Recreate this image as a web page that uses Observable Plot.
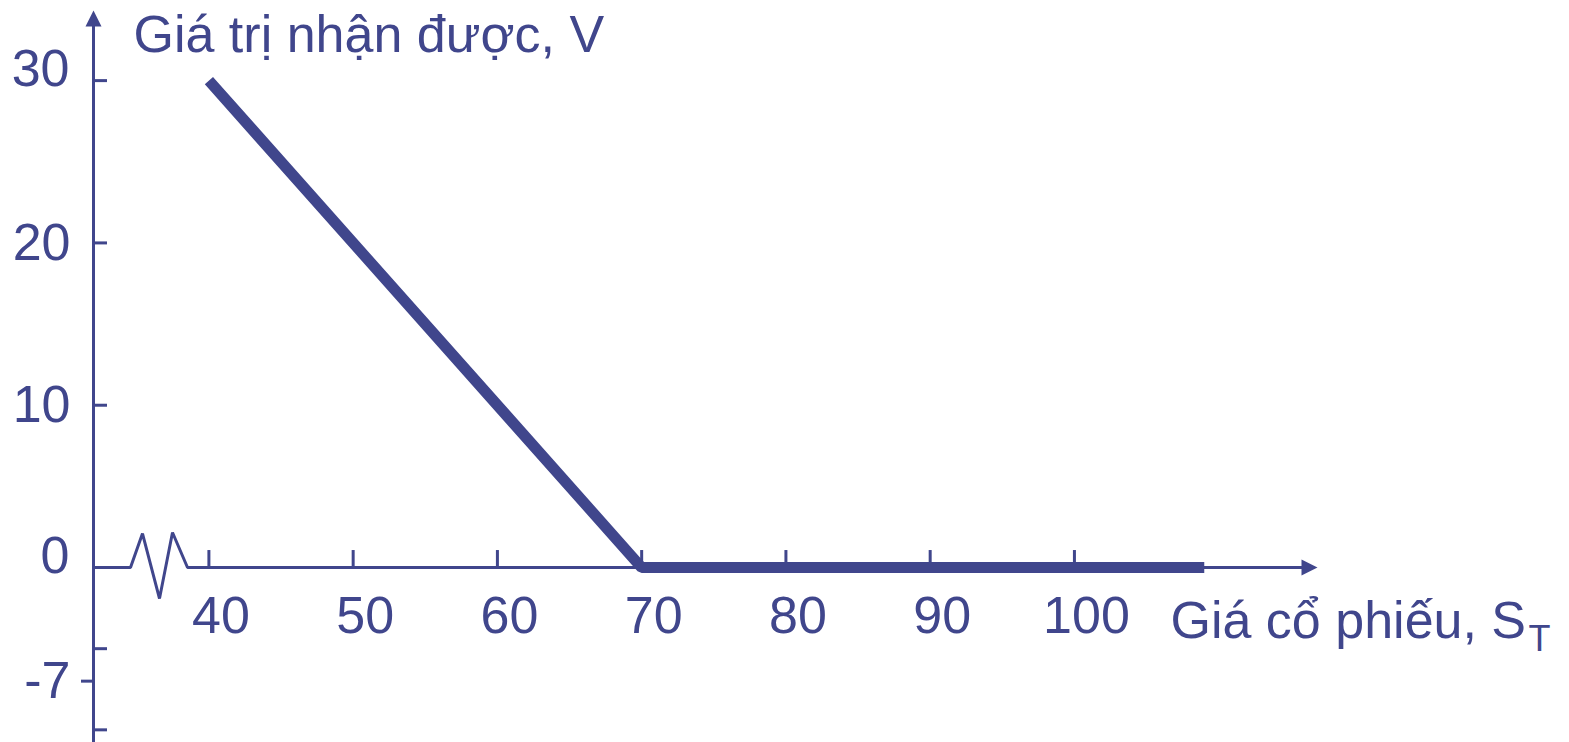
<!DOCTYPE html>
<html>
<head>
<meta charset="utf-8">
<script src="https://cdn.jsdelivr.net/npm/d3@7"></script>
<script src="https://cdn.jsdelivr.net/npm/@observablehq/plot@0.6"></script>
<style>
  html, body { margin: 0; padding: 0; background: #ffffff; }
  #chart svg { display: block; }
</style>
</head>
<body>
<div id="chart"></div>
<script>
// ---- data ----
const xTicks = [40, 50, 60, 70, 80, 90, 100];
const yTickMarks = [30, 20, 10, -5, -10];
const yLabels = [30, 20, 10, 0, -7];
const stockPrice = [40, 70, 109];
const payoffValue = [30, 0, 0];
const yTitle = "Giá trị nhận được, V";
const xTitle = "Giá cổ phiếu, S";
const xTitleSub = "T";

// axis extents (data units)
const xMin = 32, xMax = 116.85;
const yMin = -10.78, yMax = 34.32;

// ---- layout ----
const W = 1569, H = 742;
const mL = 93, mR = 252, mT = 10, mB = 0;
const kx = (W - mL - mR) / (xMax - xMin);   // px per x unit
const ky = (H - mT - mB) / (yMax - yMin);   // px per y unit
const color = "#40468c";
const font = "'Liberation Sans', Arial, sans-serif";

const payoff = stockPrice.map((s, i) => ({s, v: payoffValue[i]}));

// axis break (zigzag) expressed in px offsets from the axis origin, converted to data
const breakPx = [[0, 0], [37, 0], [49, 34], [66, -31], [79, 35], [94, 0]];
const xAxisPath = [
  ...breakPx.map(([dx, dy]) => ({x: xMin + dx / kx, y: dy / ky})),
  {x: xMax - 10 / kx, y: 0}
];

const arrowUp = {draw(c) { c.moveTo(0, 0); c.lineTo(8, 16); c.lineTo(-8, 16); c.closePath(); }};
const arrowRight = {draw(c) { c.moveTo(0, 0); c.lineTo(-16, -8); c.lineTo(-16, 8); c.closePath(); }};

const chart = Plot.plot({
  width: W,
  height: H,
  marginLeft: mL,
  marginRight: mR,
  marginTop: mT,
  marginBottom: mB,
  x: {domain: [xMin, xMax], axis: null},
  y: {domain: [yMin, yMax], axis: null},
  style: {background: "#ffffff", fontFamily: font, color: color, overflow: "visible"},
  marks: [
    // y axis
    Plot.ruleX([xMin], {y1: yMin, y2: yMax - 8 / ky, stroke: color, strokeWidth: 3}),
    Plot.dot([{x: xMin, y: yMax}], {x: "x", y: "y", symbol: arrowUp, r: 8, fill: color, stroke: "none"}),
    // x axis with break
    Plot.line(xAxisPath, {x: "x", y: "y", stroke: color, strokeWidth: 3, strokeLinejoin: "miter"}),
    Plot.dot([{x: xMax, y: 0}], {x: "x", y: "y", symbol: arrowRight, r: 8, fill: color, stroke: "none"}),
    // x ticks (upward)
    Plot.ruleX(xTicks, {x: d => d, y1: 0, y2: 17 / ky, stroke: color, strokeWidth: 3}),
    // y ticks (inward), -7 tick outward
    Plot.ruleY(yTickMarks, {y: d => d, x1: xMin, x2: xMin + 14 / kx, stroke: color, strokeWidth: 3}),
    Plot.ruleY([-7], {y: d => d, x1: xMin - 12 / kx, x2: xMin, stroke: color, strokeWidth: 3}),
    // payoff line
    Plot.line(payoff, {x: "s", y: "v", stroke: color, strokeWidth: 11, strokeLinejoin: "miter", strokeLinecap: "butt"}),
    // y labels
    Plot.text(yLabels.filter(d => d !== 30 && d !== 0), {x: () => xMin, y: d => d, text: d => String(d), textAnchor: "end", dx: -23, fontSize: 52, fill: color}),
    Plot.text(yLabels.filter(d => d === 30 || d === 0), {x: () => xMin, y: d => d, text: d => String(d), textAnchor: "end", dx: -24, dy: -11, fontSize: 52, fill: color}),
    // x labels
    Plot.text(xTicks, {x: d => d, y: () => 0, text: d => String(d), dx: 12, dy: 49, fontSize: 52, fill: color}),
    // titles
    Plot.text([yTitle], {frameAnchor: "top-left", dx: 40, dy: 5, textAnchor: "start", lineAnchor: "top", fontSize: 52, fill: color}),
    Plot.text([xTitle], {x: () => xMax, y: () => 0, dx: -147, dy: 54, textAnchor: "start", fontSize: 52, fill: color}),
    Plot.text([xTitleSub], {x: () => xMax, y: () => 0, dx: 211, dy: 72, textAnchor: "start", fontSize: 36, fill: color})
  ]
});

document.getElementById("chart").appendChild(chart);
</script>
</body>
</html>
